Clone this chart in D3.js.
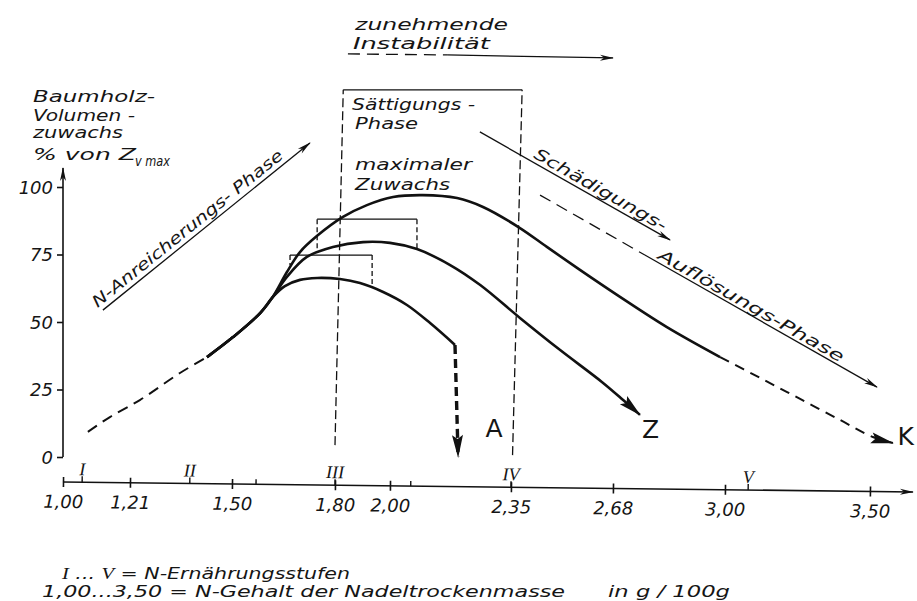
<!DOCTYPE html>
<html>
<head>
<meta charset="utf-8">
<script src="https://cdn.jsdelivr.net/npm/d3@7"></script>
<style>
  body { margin: 0; background: #fff; }
  svg { display: block; background: #fff; }
  text { font-family: "DejaVu Sans", sans-serif; font-style: italic; fill: #151515; }
</style>
</head>
<body>
<svg id="draw"></svg>
<script>
// N-Gehalt der Nadeltrockenmasse (g/100g) and N-Ernährungsstufen
const xTicks = [1.00, 1.21, 1.50, 1.80, 2.00, 2.35, 2.68, 3.00, 3.50];
const xTickLabels = ["1,00", "1,21", "1,50", "1,80", "2,00", "2,35", "2,68", "3,00", "3,50"];
const xMinorTicks = [1.57, 2.06];
const stufenValues = [1.06, 1.38, 1.80, 2.35, 3.08];
const stufenLabels = ["I", "II", "III", "IV", "V"];
const yTicks = [0, 25, 50, 75, 100];

// common rising branch (first part dashed)
const riseX = [1.078, 1.147, 1.238, 1.352, 1.429, 1.503, 1.582, 1.619];
const riseY = [9.3, 14.8, 21.1, 31.1, 37.0, 44.4, 53.3, 59.3];
const riseDashedTo = 4;

// curve A
const curveAX = [1.619, 1.654, 1.698, 1.748, 1.818, 1.891, 1.975, 2.049, 2.116, 2.188];
const curveAY = [59.3, 63.3, 65.6, 66.3, 65.9, 64.4, 61.1, 56.3, 49.6, 41.5];
const dropA = [2.197, 0];

// curve Z
const curveZX = [1.619, 1.660, 1.718, 1.794, 1.902, 2.00, 2.078, 2.174, 2.261, 2.379, 2.509, 2.644, 2.709, 2.757];
const curveZY = [59.3, 66.7, 74.1, 77.8, 79.6, 79.3, 77.0, 71.1, 63.7, 51.5, 39.6, 27.8, 21.1, 15.6];

// curve K (solid part, then dashed tail)
const curveKX = [1.619, 1.660, 1.698, 1.748, 1.829, 1.916, 2.009, 2.095, 2.194, 2.269, 2.379, 2.466, 2.573, 2.700, 2.834, 2.986];
const curveKY = [59.3, 68.5, 75.9, 81.9, 88.9, 93.3, 96.3, 97.0, 95.9, 92.6, 84.8, 77.8, 69.3, 59.3, 48.1, 37.0];
const tailKX = [2.986, 3.121, 3.259, 3.397, 3.510, 3.579];
const tailKY = [37.0, 29.3, 21.5, 13.7, 7.4, 5.2];

// "maximaler Zuwachs" ranges: [x from, x to, top, left foot, right foot]
const maxRangeZ = [1.748, 2.078, 88.1, 75.9, 77.0];
const maxRangeA = [1.669, 1.935, 74.8, 71.1, 62.6];

// Sättigungs-Phase box: [x bottom, x top] for each side, top level, bottom levels
const satLeft = [1.80, 1.83];
const satRight = [2.355, 2.386];
const satTop = 136;
const satBottom = [4.4, 0.7];

// phase arrows (chart units)
const nPhase = [[1.125, 54.4], [1.727, 116.3]];
const schPhase = [[2.260, 120.4], [2.843, 80.4]];
const aufPhaseDash = [[2.444, 97.0], [2.771, 74.8]];
const aufPhase = [[2.771, 74.8], [3.524, 25.9]];
const instabDash = [[1.847, 149.3], [2.165, 148.9]];
const instab = [[2.165, 148.9], [2.68, 147.8]];

const width = 917;
const height = 601;
const xStops = [63, 130, 232, 335, 390, 511, 613, 725, 870];
const axisY = 482;

const svg = d3.select("#draw").attr("width", width).attr("height", height);

const x = d3.scaleLinear().domain(xTicks).range(xStops);
const y = d3.scaleLinear().domain([0, 100]).range([457, 187]);
const pt = d => [x(d[0]), y(d[1])];
const zip = (xs, ys) => xs.map((v, i) => [v, ys[i]]);

// arrow heads
const defs = svg.append("defs");
function marker(id, len, half) {
  defs.append("marker")
    .attr("id", id)
    .attr("markerUnits", "userSpaceOnUse")
    .attr("viewBox", `${-len - 1} ${-half - 1} ${len + 3} ${2 * half + 2}`)
    .attr("markerWidth", len + 3)
    .attr("markerHeight", 2 * half + 2)
    .attr("refX", 0).attr("refY", 0)
    .attr("orient", "auto")
    .append("path")
    .attr("d", `M1,0L${-len},${-half}L${-len + 4},0L${-len},${half}Z`)
    .attr("fill", "#111");
}
marker("headBig", 22, 5.5);
marker("headSmall", 13, 3);

const line = d3.line().x(d => x(d[0])).y(d => y(d[1])).curve(d3.curveCatmullRom.alpha(0.5));
const straight = d3.line().x(d => x(d[0])).y(d => y(d[1]));

// ---- x axis (slightly skewed like the drawing)
const gx = svg.append("g")
  .attr("transform", `translate(0,${axisY}) rotate(0.67,${x(1)},0)`);

gx.call(d3.axisBottom(x).tickValues(xTicks)
  .tickFormat((d, i) => xTickLabels[i])
  .tickSizeOuter(0));
gx.select(".domain").remove();
gx.attr("font-family", null).attr("font-size", null);
gx.selectAll(".tick line").attr("y1", -5).attr("y2", 5)
  .attr("stroke", "#111").attr("stroke-width", 1.6);
gx.selectAll(".tick text").attr("y", 26).attr("dy", null)
  .attr("fill", "#151515").style("font-size", "18px");

gx.append("line")
  .attr("x1", x(1)).attr("x2", width - 4)
  .attr("y1", 0).attr("y2", 0)
  .attr("stroke", "#111").attr("stroke-width", 1.6)
  .attr("marker-end", "url(#headSmall)");

gx.selectAll(".minor").data(xMinorTicks).enter().append("line")
  .attr("x1", d => x(d)).attr("x2", d => x(d))
  .attr("y1", -5).attr("y2", 0)
  .attr("stroke", "#111").attr("stroke-width", 1.4);

gx.selectAll(".stufe-tick").data(stufenValues).enter().append("line")
  .attr("x1", d => x(d)).attr("x2", d => x(d))
  .attr("y1", -6).attr("y2", 0)
  .attr("stroke", "#111").attr("stroke-width", 1.4);

gx.selectAll(".stufe").data(stufenValues).enter().append("text")
  .attr("x", d => x(d)).attr("y", -7)
  .attr("text-anchor", "middle")
  .style("font-family", "'Liberation Serif', serif")
  .style("font-size", "18px")
  .text((d, i) => stufenLabels[i]);

// ---- y axis
const gy = svg.append("g").attr("transform", `translate(${x(1)},0)`);
gy.call(d3.axisLeft(y).tickValues(yTicks).tickSizeInner(6).tickSizeOuter(0).tickPadding(4));
gy.select(".domain").remove();
gy.attr("font-family", null).attr("font-size", null);
gy.selectAll(".tick line").attr("stroke", "#111").attr("stroke-width", 1.6);
gy.selectAll(".tick text").attr("fill", "#151515").attr("dy", "0.36em").style("font-size", "18px");
gy.append("line")
  .attr("x1", 0).attr("x2", 0)
  .attr("y1", y(0)).attr("y2", y(107))
  .attr("stroke", "#111").attr("stroke-width", 1.6)
  .attr("marker-end", "url(#headSmall)");

// y axis title
const titleLines = ["Baumholz-", "Volumen -", "zuwachs", "% von Z"];
const titleBase = [102, 121, 138, 160];
const titleLen = [122, 102, 90, 103];
svg.selectAll(".ytitle").data(titleLines).enter().append("text")
  .attr("x", 33).attr("y", (d, i) => titleBase[i])
  .attr("textLength", (d, i) => titleLen[i])
  .attr("lengthAdjust", "spacingAndGlyphs")
  .style("font-size", "15px")
  .text(d => d);
svg.append("text").attr("x", 135).attr("y", 166)
  .attr("textLength", 35).attr("lengthAdjust", "spacingAndGlyphs")
  .style("font-size", "14px").text("v max");

// ---- curves
const ink = "#111";
const rise = zip(riseX, riseY);
svg.append("path").attr("d", line(rise.slice(0, riseDashedTo + 1)))
  .attr("fill", "none").attr("stroke", ink).attr("stroke-width", 2)
  .attr("stroke-dasharray", "11,7");

// each curve carries the solid common branch so the fan-out stays smooth
const withRise = (xs, ys) => rise.slice(riseDashedTo, -1).concat(zip(xs, ys));

svg.append("path").attr("d", line(withRise(curveAX, curveAY)))
  .attr("fill", "none").attr("stroke", ink).attr("stroke-width", 2.6);
svg.append("path").attr("d", straight([[curveAX[curveAX.length - 1], curveAY[curveAY.length - 1]], dropA]))
  .attr("fill", "none").attr("stroke", ink).attr("stroke-width", 3.4)
  .attr("stroke-dasharray", "9,5")
  .attr("marker-end", "url(#headBig)");

svg.append("path").attr("d", line(withRise(curveZX, curveZY)))
  .attr("fill", "none").attr("stroke", ink).attr("stroke-width", 2.6)
  .attr("marker-end", "url(#headBig)");

svg.append("path").attr("d", line(withRise(curveKX, curveKY)))
  .attr("fill", "none").attr("stroke", ink).attr("stroke-width", 2.6);
svg.append("path").attr("d", line(zip(tailKX, tailKY)))
  .attr("fill", "none").attr("stroke", ink).attr("stroke-width", 2)
  .attr("stroke-dasharray", "10,7")
  .attr("marker-end", "url(#headBig)");

// curve names
const curveNames = [["A", 2.276, 7.4], ["Z", 2.763, 7.0], ["K", 3.595, 4.4]];
svg.selectAll(".cname").data(curveNames).enter().append("text")
  .attr("x", d => x(d[1])).attr("y", d => y(d[2]))
  .style("font-size", "25px").style("font-style", "normal")
  .text(d => d[0]);

// ---- maximum ranges
[maxRangeZ, maxRangeA].forEach(r => {
  svg.append("path").attr("d", straight([[r[0], r[2]], [r[1], r[2]]]))
    .attr("stroke", ink).attr("stroke-width", 1.3).attr("fill", "none");
  svg.append("path").attr("d", straight([[r[0], r[2]], [r[0], r[3]]]))
    .attr("stroke", ink).attr("stroke-width", 1.3).attr("stroke-dasharray", "5,3");
  svg.append("path").attr("d", straight([[r[1], r[2]], [r[1], r[4]]]))
    .attr("stroke", ink).attr("stroke-width", 1.3).attr("stroke-dasharray", "5,3");
});

// ---- Sättigungs-Phase box
svg.append("path").attr("d", straight([[satLeft[1], satTop], [satRight[1], satTop]]))
  .attr("stroke", ink).attr("stroke-width", 1.3);
svg.append("path").attr("d", straight([[satLeft[0], satBottom[0]], [satLeft[1], satTop]]))
  .attr("stroke", ink).attr("stroke-width", 1.3).attr("stroke-dasharray", "9,4");
svg.append("path").attr("d", straight([[satRight[0], satBottom[1]], [satRight[1], satTop]]))
  .attr("stroke", ink).attr("stroke-width", 1.3).attr("stroke-dasharray", "9,4");

const boxTexts = [["Sättigungs -", 1.862, 128.5, 123], ["Phase", 1.873, 121.6, 63],
                  ["maximaler", 1.873, 106.3, 117], ["Zuwachs", 1.873, 98.9, 95],
                  ["zunehmende", 1.873, 158.1, 153], ["Instabilität", 1.865, 151.1, 137]];
svg.selectAll(".btext").data(boxTexts).enter().append("text")
  .attr("x", d => x(d[1])).attr("y", d => y(d[2]))
  .attr("textLength", d => d[3]).attr("lengthAdjust", "spacingAndGlyphs")
  .style("font-size", "16px")
  .text(d => d[0]);

// ---- phase arrows
function arrowLine(seg, dashed, head) {
  const p = svg.append("path").attr("d", straight(seg))
    .attr("fill", "none").attr("stroke", ink).attr("stroke-width", 1.3);
  if (dashed) p.attr("stroke-dasharray", "12,7");
  if (head) p.attr("marker-end", "url(#headSmall)");
}
arrowLine(nPhase, false, true);
arrowLine(schPhase, false, true);
arrowLine(aufPhaseDash, true, false);
arrowLine(aufPhase, false, true);
arrowLine(instabDash, true, false);
arrowLine(instab, false, true);

function alongText(seg, t, off, str, len) {
  const [x0, y0] = pt(seg[0]), [x1, y1] = pt(seg[1]);
  const ang = Math.atan2(y1 - y0, x1 - x0);
  const px = x0 + (x1 - x0) * t + Math.sin(ang) * off;
  const py = y0 + (y1 - y0) * t - Math.cos(ang) * off;
  svg.append("text")
    .attr("transform", `translate(${px},${py}) rotate(${ang * 180 / Math.PI})`)
    .attr("text-anchor", "middle")
    .attr("textLength", len).attr("lengthAdjust", "spacingAndGlyphs")
    .style("font-size", "16px")
    .text(str);
}
alongText(nPhase, 0.44, 5, "N-Anreicherungs- Phase", 240);
alongText(schPhase, 0.61, 4, "Schädigungs-", 150);
alongText(aufPhase, 0.44, 3, "Auflösungs-Phase", 211);

// ---- notes
const note1 = svg.append("text").attr("x", 62).attr("y", 579)
  .attr("textLength", 288).attr("lengthAdjust", "spacingAndGlyphs")
  .style("font-size", "16px");
note1.append("tspan").style("font-family", "'Liberation Serif', serif").text("I");
note1.append("tspan").text(" ... ");
note1.append("tspan").style("font-family", "'Liberation Serif', serif").text("V");
note1.append("tspan").text(" = N-Ernährungsstufen");
svg.append("text").attr("x", 42).attr("y", 597)
  .attr("textLength", 523).attr("lengthAdjust", "spacingAndGlyphs")
  .style("font-size", "16px")
  .text("1,00...3,50 = N-Gehalt der Nadeltrockenmasse");
svg.append("text").attr("x", 608).attr("y", 597)
  .attr("textLength", 122).attr("lengthAdjust", "spacingAndGlyphs")
  .style("font-size", "16px")
  .text("in g / 100g");
</script>
</body>
</html>
